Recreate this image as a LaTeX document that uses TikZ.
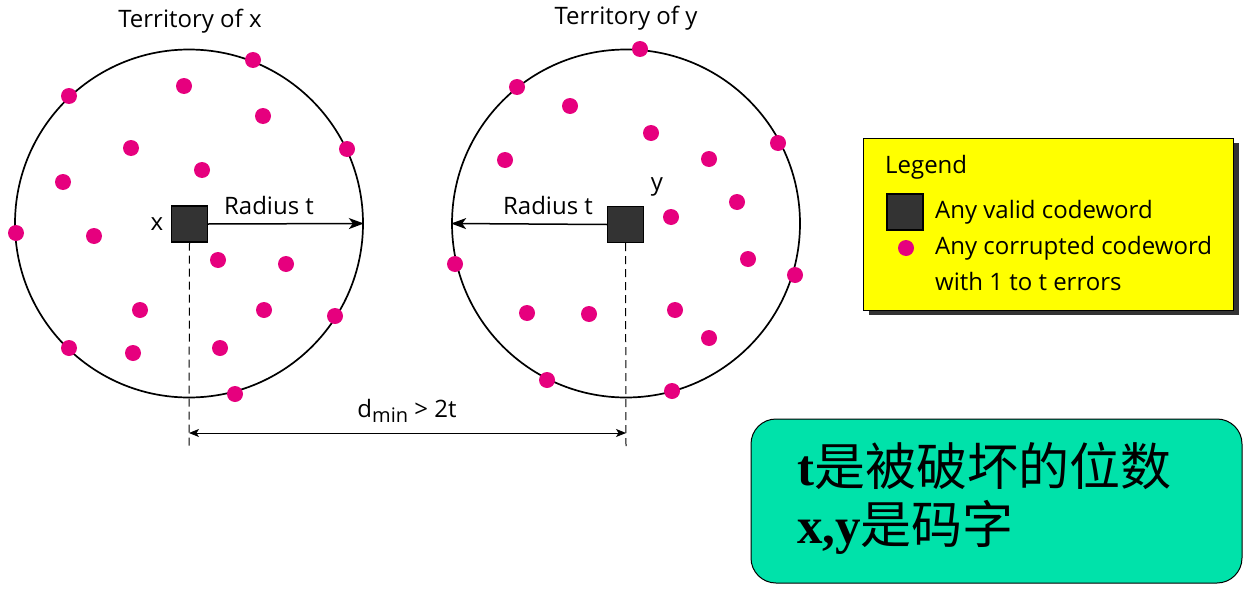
\documentclass[tikz,border=0pt]{standalone}
\usepackage{fontspec}
\setmainfont{Open Sans}
\newfontfamily\cjk{Noto Sans CJK SC}
\newfontfamily\serifb{Liberation Serif}[BoldFont={Liberation Serif Bold}]
\usetikzlibrary{arrows.meta}
\definecolor{dotpink}{RGB}{230,0,126}
\definecolor{sqgray}{RGB}{51,51,51}
\definecolor{legyellow}{RGB}{255,255,0}
\definecolor{notegreen}{RGB}{0,226,170}
\begin{document}
\begin{tikzpicture}[x=1pt,y=-1pt,
  dotn/.style={circle,fill=dotpink,inner sep=0pt,minimum size=16pt},
  codeword/.style={draw=black,fill=sqgray,line width=1.2pt,inner sep=0pt,minimum size=36pt},
  terr/.style={circle,draw=black,line width=1.7pt,inner sep=0pt,minimum size=348pt},
  lbl/.style={font=\fontsize{24}{28}\selectfont,inner sep=0pt},
  radarrow/.style={line width=1.5pt,-{Stealth[length=15pt,width=11pt,inset=4pt]}},
  dimline/.style={line width=0.9pt,{Stealth[length=10pt,width=8pt,inset=2.5pt]}-{Stealth[length=10pt,width=8pt,inset=2.5pt]}},
  dashln/.style={line width=1pt,dash pattern=on 8pt off 5pt}]
\useasboundingbox (0,0) rectangle (1252,594);
% territories
\node[terr] (cx) at (189,223.5) {};
\node[terr] (cy) at (626,223.5) {};
\node[lbl] (tx) at (190,21) {Territory of x};
\node[lbl] (ty) at (626,18) {Territory of y};
% codewords
\node[codeword] (sx) at (189.5,224) {};
\node[codeword] (sy) at (625.5,224.5) {};
\node[lbl] (lx) at (157,224) {x};
\node[lbl] (ly) at (657,187) {y};
% radius arrows
\draw[radarrow] (sx.east) -- (cx.east);
\draw[radarrow] (sy.west) -- (cy.west);
\node[lbl] (rx) at (269,205) {Radius t};
\node[lbl] (ry) at (548,205) {Radius t};
% dashed guides and dimension
\coordinate (gx) at (189,448);
\coordinate (gy) at (626,448);
\draw[dashln] (sx.south) -- (gx);
\draw[dashln] (sy.south) -- (gy);
\coordinate (dl) at (189,433);
\coordinate (dr) at (626,433);
\draw[dimline] (dl) -- (dr);
\node[lbl] (dmin) at (407,411) {d\raisebox{-0.4ex}{\fontsize{20}{22}\selectfont min} > 2t};
% dots of x
\foreach \i/\p in {1/{253,60},2/{69,96},3/{184,86},4/{263,116},5/{347,149},6/{131,148},7/{63,182},8/{202,170},9/{16,233},10/{94,236},11/{218,260},12/{286,264},13/{140,310},14/{264,310},15/{335,316},16/{69,348},17/{133,353},18/{220,348},19/{235,394}}
  \node[dotn] (px\i) at (\p) {};
% dots of y
\foreach \i/\p in {1/{640,49},2/{517,87},3/{570,106},4/{651,133},5/{778,143},6/{505,160},7/{709,159},8/{737,202},9/{671,217},10/{748,259},11/{455,264},12/{795,275},13/{527,313},14/{589,314},15/{675,310},16/{709,338},17/{547,380},18/{672,391}}
  \node[dotn] (py\i) at (\p) {};
% legend
\fill[sqgray] (869,143) rectangle (1239,315);
\node[draw=black,fill=legyellow,line width=1pt,minimum width=370pt,minimum height=172pt,inner sep=0pt] (leg) at (1048,224) {};
\node[lbl,anchor=west] (legt) at (885,167) {Legend};
\node[codeword] (legsq) at (905,212) {};
\node[lbl,anchor=west] (leg1) at (935,212) {Any valid codeword};
\node[dotn] (legdot) at (906,248) {};
\node[lbl,anchor=west] (leg2) at (935,248) {Any corrupted codeword};
\node[lbl,anchor=west] (leg3) at (935,281) {with 1 to t errors};
% note
\node[draw=black,fill=notegreen,line width=1pt,rounded corners=25pt,minimum width=491pt,minimum height=164pt,inner sep=0pt] (note) at (996.5,501) {};
\node[anchor=base west,inner sep=0pt,font=\fontsize{51}{55}\selectfont] (n1) at (797,485) {{\serifb\bfseries t}{\cjk 是被破坏的位数}};
\node[anchor=base west,inner sep=0pt,font=\fontsize{51}{55}\selectfont] (n2) at (797,543) {{\serifb\bfseries x,y}{\cjk 是码字}};
\end{tikzpicture}
\end{document}
